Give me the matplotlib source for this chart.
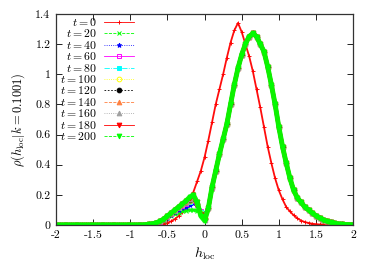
import matplotlib
matplotlib.use("Agg")
import matplotlib.pyplot as plt
from matplotlib.lines import Line2D
from matplotlib.ticker import FuncFormatter, MultipleLocator

plt.rcParams['font.family'] = 'serif'
plt.rcParams['font.serif'] = ['cmr10', 'DejaVu Serif']
plt.rcParams['mathtext.fontset'] = 'cm'
plt.rcParams['axes.unicode_minus'] = False
plt.rcParams['axes.formatter.use_mathtext'] = True

# ---- data ----
x_vals = [-2.00, -1.95, -1.90, -1.85, -1.80, -1.75, -1.70, -1.65, -1.60, -1.55,
          -1.50, -1.45, -1.40, -1.35, -1.30, -1.25, -1.20, -1.15, -1.10, -1.05,
          -1.00, -0.95, -0.90, -0.85, -0.80, -0.75, -0.70, -0.65, -0.60, -0.55,
          -0.50, -0.45, -0.40, -0.35, -0.30, -0.25, -0.20, -0.15, -0.10, -0.05,
          0.00, 0.05, 0.10, 0.15, 0.20, 0.25, 0.30, 0.35, 0.40, 0.45,
          0.50, 0.55, 0.60, 0.65, 0.70, 0.75, 0.80, 0.85, 0.90, 0.95,
          1.00, 1.05, 1.10, 1.15, 1.20, 1.25, 1.30, 1.35, 1.40, 1.45,
          1.50, 1.55, 1.60, 1.65, 1.70, 1.75, 1.80, 1.85, 1.90, 1.95, 2.00]

rho_t0 = [0]*26 + [0.002, 0.004, 0.006, 0.01, 0.015, 0.025, 0.04, 0.06, 0.085, 0.12,
                   0.165, 0.22, 0.29, 0.36,
                   0.45, 0.56, 0.68, 0.80, 0.90, 1.00, 1.11, 1.21, 1.29, 1.34,
                   1.28, 1.20, 1.12, 1.02, 0.90, 0.78, 0.65, 0.52, 0.41, 0.31,
                   0.23, 0.17, 0.12, 0.09, 0.065, 0.045, 0.03, 0.02, 0.014, 0.009,
                   0.006, 0.004, 0.003, 0.002, 0.001] + [0]*6

# far-left tail (x = -2.0 ... -0.85), shared by t >= 20
tail_left = [0]*24
# x = 0.15 ... 2.0, shared by t >= 20
late_right = [0.36, 0.47, 0.57, 0.67, 0.80, 0.93, 1.04, 1.13, 1.20, 1.25,
              1.27, 1.25, 1.20, 1.15, 1.05, 0.93, 0.80, 0.65, 0.52, 0.41,
              0.31, 0.23, 0.18, 0.15, 0.12, 0.10, 0.08, 0.062, 0.047, 0.035,
              0.025, 0.017, 0.011, 0.007, 0.005, 0.003, 0.002, 0.001]
# x = -0.8 ... 0.1 for each time
bump_t20 = [0.001, 0.003, 0.006, 0.01, 0.018, 0.03, 0.045, 0.06, 0.072, 0.082,
            0.09, 0.096, 0.10, 0.10, 0.095, 0.08, 0.07, 0.12, 0.24]
bump_t40 = [0.002, 0.004, 0.007, 0.012, 0.02, 0.034, 0.05, 0.068, 0.085, 0.10,
            0.112, 0.122, 0.13, 0.145, 0.13, 0.095, 0.065, 0.115, 0.245]
bump_t60 = [0.002, 0.005, 0.008, 0.014, 0.023, 0.037, 0.055, 0.074, 0.092, 0.11,
            0.125, 0.138, 0.15, 0.16, 0.135, 0.09, 0.055, 0.115, 0.245]
bump_t80 = [0.002, 0.005, 0.008, 0.015, 0.025, 0.04, 0.058, 0.077, 0.096, 0.115,
            0.132, 0.145, 0.155, 0.17, 0.14, 0.085, 0.05, 0.112, 0.25]
bump_t100 = [0.002, 0.005, 0.008, 0.015, 0.025, 0.04, 0.06, 0.078, 0.098, 0.117,
             0.135, 0.15, 0.16, 0.175, 0.14, 0.08, 0.045, 0.11, 0.25]
bump_t120 = [0.002, 0.005, 0.008, 0.015, 0.025, 0.04, 0.06, 0.08, 0.10, 0.118,
             0.137, 0.153, 0.165, 0.18, 0.14, 0.075, 0.04, 0.11, 0.25]
bump_t140 = [0.002, 0.005, 0.008, 0.015, 0.025, 0.04, 0.06, 0.08, 0.10, 0.12,
             0.138, 0.156, 0.17, 0.185, 0.145, 0.07, 0.04, 0.11, 0.25]
bump_t160 = [0.002, 0.005, 0.008, 0.015, 0.025, 0.04, 0.06, 0.08, 0.10, 0.12,
             0.14, 0.158, 0.175, 0.19, 0.15, 0.07, 0.035, 0.11, 0.25]
bump_t180 = [0.002, 0.005, 0.008, 0.015, 0.025, 0.04, 0.06, 0.08, 0.10, 0.12,
             0.14, 0.16, 0.18, 0.195, 0.15, 0.065, 0.035, 0.11, 0.25]
bump_t200 = [0.002, 0.005, 0.008, 0.015, 0.025, 0.04, 0.06, 0.08, 0.10, 0.12,
             0.14, 0.16, 0.185, 0.20, 0.15, 0.06, 0.03, 0.11, 0.25]

times = [0, 20, 40, 60, 80, 100, 120, 140, 160, 180, 200]
series = [rho_t0] + [tail_left + b + late_right for b in
                     [bump_t20, bump_t40, bump_t60, bump_t80, bump_t100,
                      bump_t120, bump_t140, bump_t160, bump_t180, bump_t200]]

colors = ['#ff0000', '#00ff00', '#0000ff', '#ff00ff', '#00ffff', '#ffff00',
          '#000000', '#ff8040', '#a0a0a0', '#ff0000', '#00ff00']
markers = ['+', 'x', '*', 's', 's', 'o', 'o', '^', '^', 'v', 'v']
filled = [True, True, True, False, True, False, True, True, True, True, True]
styles = ['-', '--', ':', '-', '-.', ':', (0, (2, 2)), '--', ':', '-', '--']
band_width = [1.3, 2.2, 2.4, 2.4, 2.6, 2.6, 2.6, 2.8, 2.8, 3.0, 3.6]

fig = plt.figure(figsize=(3.74, 2.62), dpi=100)
ax = fig.add_axes([0.150, 0.141, 0.794, 0.806])

for t, y, c, m, f, lw in zip(times, series, colors, markers, filled, band_width):
    ax.plot(x_vals, y, color=c, linestyle='-', linewidth=lw,
            marker=m, markersize=3.4, markeredgewidth=0.7,
            markerfacecolor=(c if f else 'none'), markeredgecolor=c,
            solid_joinstyle='round', solid_capstyle='round', alpha=0.95)

ax.set_xlim(-2, 2)
ax.set_ylim(0, 1.4)
ax.xaxis.set_major_locator(MultipleLocator(0.5))
ax.yaxis.set_major_locator(MultipleLocator(0.2))
fmt = FuncFormatter(lambda v, p: '%g' % round(v, 3))
ax.xaxis.set_major_formatter(fmt)
ax.yaxis.set_major_formatter(fmt)
ax.tick_params(direction='in', top=True, right=True, length=4, width=0.6,
               labelsize=8.5, pad=4)
for s in ax.spines.values():
    s.set_linewidth(0.9)
    s.set_color('#333333')

ax.set_xlabel(r'$h_{\rm loc}$', fontsize=10, labelpad=4)
ax.set_ylabel(r'$\rho(h_{\rm loc}|k = 0.1001)$', fontsize=9, labelpad=6)

# gnuplot-style key: right-aligned labels, sample line to the right
x_text, x_l0, x_l1 = 0.138, 0.162, 0.263
for i, (t, c, m, f, ls) in enumerate(zip(times, colors, markers, filled, styles)):
    yy = 0.962 - 0.054 * i
    ax.text(x_text, yy, r'$t = %d$' % t, transform=ax.transAxes,
            ha='right', va='center', fontsize=8.5)
    ax.add_line(Line2D([x_l0, x_l1], [yy, yy], transform=ax.transAxes,
                       color=c, linestyle=ls, linewidth=0.6, clip_on=False))
    ax.add_line(Line2D([(x_l0 + x_l1) / 2], [yy], transform=ax.transAxes,
                       color=c, marker=m, markersize=3.4, markeredgewidth=0.7,
                       markerfacecolor=(c if f else 'none'), markeredgecolor=c,
                       linestyle='none', clip_on=False))

fig.savefig('out.png', dpi=100)
